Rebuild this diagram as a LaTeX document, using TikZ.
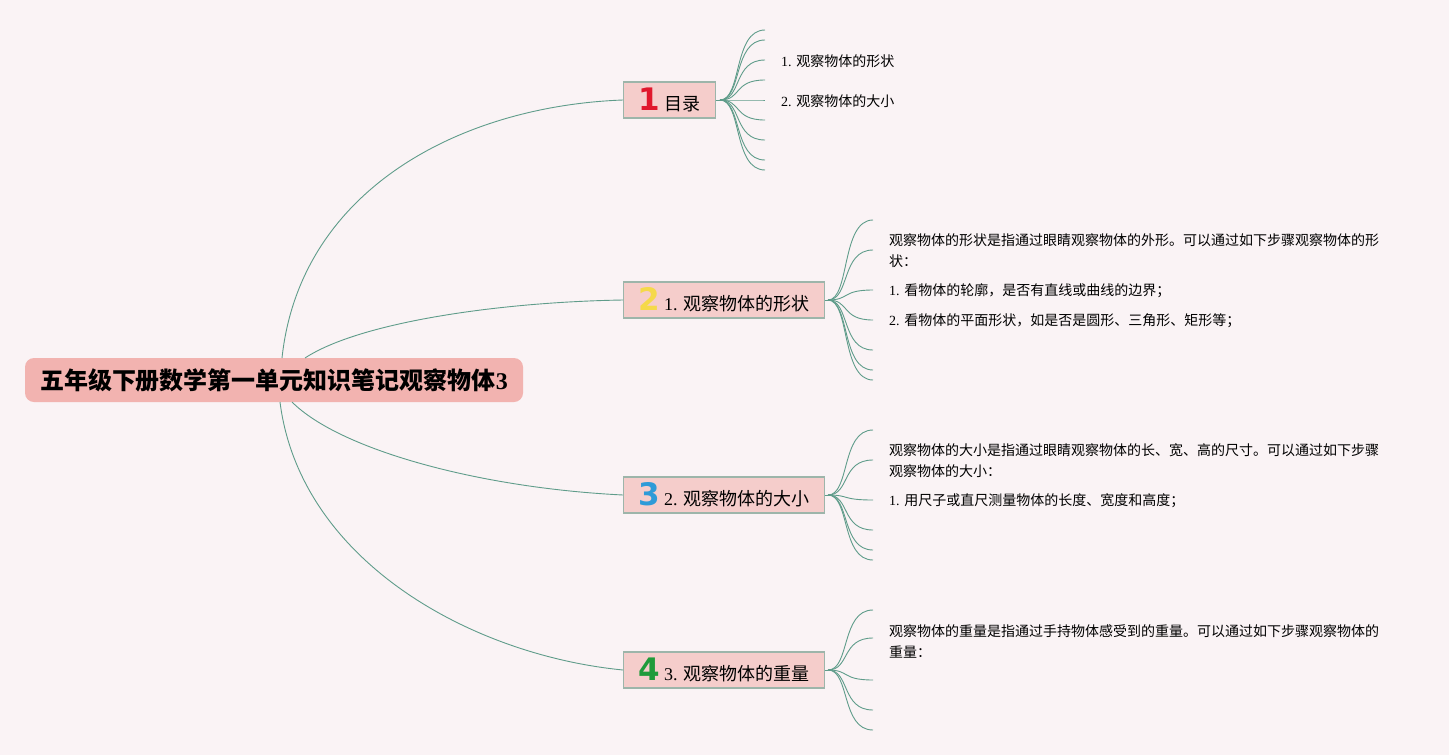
\documentclass[tikz,border=0pt]{standalone}
\usepackage{fontspec}
\setmainfont{Liberation Serif}
\newfontfamily\cjk{Noto Sans CJK SC}
\newfontfamily\numfont{DejaVu Sans}
\usetikzlibrary{positioning}
\definecolor{bgpink}{HTML}{FAF3F5}
\definecolor{rootfill}{HTML}{F2B3B0}
\definecolor{boxfill}{HTML}{F5CDCB}
\definecolor{boxline}{HTML}{9DB5AA}
\definecolor{linkcol}{HTML}{5F9C8A}
\definecolor{numred}{HTML}{E0182D}
\definecolor{numyellow}{HTML}{F5D94A}
\definecolor{numblue}{HTML}{2E9BD8}
\definecolor{numgreen}{HTML}{1F9B3A}
\newcommand{\numicon}[2]{{\numfont\bfseries\fontsize{31}{31}\selectfont\color{#1}#2}}

\begin{document}
\begin{tikzpicture}[x=1pt, y=-1pt,
  rootbox/.style={draw=none, fill=rootfill, rounded corners=9pt, minimum height=44pt, inner xsep=15pt, font=\cjk\bfseries\fontsize{24}{28}\selectfont},
  topicbox/.style={draw=boxline, line width=1.2pt, fill=boxfill, minimum height=36pt, inner xsep=15pt, inner ysep=0pt, anchor=west, font=\fontsize{18}{22}\selectfont},
  leaftext/.style={anchor=west, align=left, inner sep=0pt, font=\fontsize{14}{21}\selectfont},
  mainlink/.style={draw=linkcol, line width=0.9pt},
  leaflink/.style={draw=linkcol, line width=0.9pt, to path={.. controls +(22,0) and +(-32,0) .. (\tikztotarget)}}]
  \fill[bgpink] (0,0) rectangle (1449,755);
  \useasboundingbox (0,0) rectangle (1449,755);

  % root and main topics
  \draw (274,380) node[rootbox](root){五年级下册数学第一单元知识笔记观察物体{\rmfamily\bfseries 3}};
  \draw (623,100) node[topicbox](b1){\numicon{numred}{1}\hspace{4pt}{\cjk 目录}};
  \draw (623,300) node[topicbox](b2){\numicon{numyellow}{2}\hspace{4pt}1. {\cjk 观察物体的形状}};
  \draw (623,495) node[topicbox](b3){\numicon{numblue}{3}\hspace{4pt}2. {\cjk 观察物体的大小}};
  \draw (623,670) node[topicbox](b4){\numicon{numgreen}{4}\hspace{4pt}3. {\cjk 观察物体的重量}};

  \path[mainlink] (282,358) .. controls (300,190) and (460,106) .. (b1.west);
  \path[mainlink] (305,358) .. controls (360,322) and (500,302) .. (b2.west);
  \path[mainlink] (292,402) .. controls (340,450) and (480,488) .. (b3.west);
  \path[mainlink] (280,402) .. controls (300,560) and (470,655) .. (b4.west);

  % hubs at the right of each topic
  \coordinate (h1) at (720,100);
  \coordinate (h2) at (828,300);
  \coordinate (h3) at (828,495);
  \coordinate (h4) at (828,670);

  % leaf texts
  \draw (781,61) node[leaftext](t11){1. {\cjk 观察物体的形状}};
  \draw (781,101) node[leaftext](t12){2. {\cjk 观察物体的大小}};
  \draw (889,251) node[leaftext](t21){\cjk 观察物体的形状是指通过眼睛观察物体的外形。可以通过如下步骤观察物体的形\\\cjk 状：};
  \draw (889,291) node[leaftext](t22){1. {\cjk 看物体的轮廓，是否有直线或曲线的边界；}};
  \draw (889,321) node[leaftext](t23){2. {\cjk 看物体的平面形状，如是否是圆形、三角形、矩形等；}};
  \draw (889,461) node[leaftext](t31){\cjk 观察物体的大小是指通过眼睛观察物体的长、宽、高的尺寸。可以通过如下步骤\\\cjk 观察物体的大小：};
  \draw (889,501) node[leaftext](t32){1. {\cjk 用尺子或直尺测量物体的长度、宽度和高度；}};
  \draw (889,641) node[leaftext](t41){\cjk 观察物体的重量是指通过手持物体感受到的重量。可以通过如下步骤观察物体的\\\cjk 重量：};

  % leaf connectors
  \foreach \y in {30,40,60,80,100,120,140,160,170}{
    \coordinate (e) at (765,\y);
    \path[leaflink] (h1) to (e);
  }
  \foreach \y in {220,250,290,320,350,370,380}{
    \coordinate (e) at (873,\y);
    \path[leaflink] (h2) to (e);
  }
  \foreach \y in {430,460,500,530,550,560}{
    \coordinate (e) at (873,\y);
    \path[leaflink] (h3) to (e);
  }
  \foreach \y in {610,638,680,710,730}{
    \coordinate (e) at (873,\y);
    \path[leaflink] (h4) to (e);
  }
  \path[mainlink] (b1.east) -- (h1);
  \path[mainlink] (b2.east) -- (h2);
  \path[mainlink] (b3.east) -- (h3);
  \path[mainlink] (b4.east) -- (h4);
\end{tikzpicture}
\end{document}
